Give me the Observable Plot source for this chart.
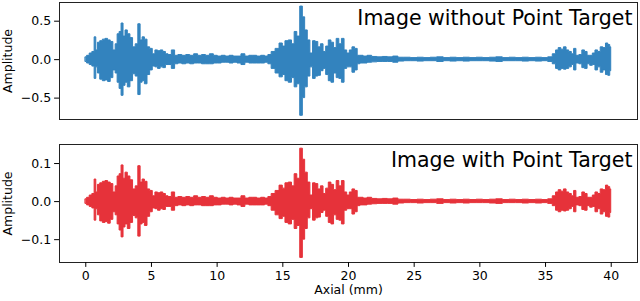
<!DOCTYPE html>
<html><head><meta charset="utf-8">
<script src="https://cdn.jsdelivr.net/npm/d3@7"></script>
<script src="https://cdn.jsdelivr.net/npm/@observablehq/plot@0.6"></script>
<style>
html,body{margin:0;padding:0;background:#fff;}
#chart{width:640px;height:301px;overflow:hidden;}
#chart svg{display:block;}
</style></head><body><div id="chart"></div>
<script>
// Axial positions (mm) at which the signal envelope was read
const axial = [
  0.0,0.2,0.4,0.6,0.75,0.85,1.0,1.2,1.4,1.6,
  1.8,2.0,2.2,2.35,2.5,2.65,2.8,2.95,3.1,3.3,
  3.5,3.7,3.9,4.1,4.25,4.4,4.6,4.8,5.0,5.2,
  5.4,5.6,5.8,6.0,6.2,6.4,6.7,6.9,7.2,7.5,
  7.8,8.1,8.4,8.7,9.0,9.3,9.6,9.9,10.2,10.5,
  10.8,11.1,11.4,11.7,12.0,12.3,12.6,12.9,13.2,13.5,
  13.8,14.0,14.3,14.6,14.9,15.1,15.3,15.6,15.8,16.0,
  16.2,16.45,16.6,16.8,17.0,17.2,17.4,17.6,17.8,18.0,
  18.2,18.4,18.6,18.8,19.0,19.2,19.4,19.6,19.8,20.0,
  20.2,20.4,20.6,20.8,21.0,21.3,21.6,22.0,22.4,22.8,
  23.2,23.6,24.0,24.5,25.0,25.5,26.0,26.5,27.0,27.5,
  28.0,28.5,29.0,29.5,30.0,30.5,31.0,31.5,32.0,32.5,
  33.0,33.5,34.0,34.5,35.0,35.4,35.7,35.9,36.1,36.3,
  36.5,36.7,36.9,37.1,37.25,37.45,37.7,37.9,38.1,38.3,
  38.5,38.7,38.9,39.1,39.3,39.5,39.7,39.85,40.0
];
// Image without Point Target: upper / lower envelope of amplitude
const withoutHi = [
  .03,.05,.08,.10,.29,.12,.22,.24,.26,.27,
  .25,.23,.12,.20,.33,.36,.47,.30,.38,.33,
  .28,.16,.20,.46,.25,.29,.26,.16,.14,.07,
  .12,.11,.12,.10,.07,.06,.12,.05,.06,.05,
  .06,.05,.07,.05,.06,.05,.07,.05,.04,.05,
  .04,.05,.04,.04,.07,.04,.05,.05,.04,.05,
  .04,.06,.10,.14,.21,.17,.24,.25,.20,.36,
  .30,.69,.55,.38,.25,.08,.24,.23,.16,.20,
  .10,.17,.25,.22,.15,.27,.20,.27,.12,.08,
  .12,.16,.14,.05,.05,.04,.05,.035,.03,.035,
  .03,.04,.025,.025,.02,.025,.02,.025,.03,.02,
  .025,.02,.025,.02,.025,.02,.025,.03,.02,.025,
  .02,.025,.02,.025,.02,.03,.07,.12,.15,.13,
  .16,.12,.10,.07,.14,.05,.06,.12,.10,.05,
  .05,.08,.12,.10,.16,.15,.21,.19,.16
];
const withoutLo = [
  -.03,-.05,-.07,-.09,-.25,-.10,-.18,-.26,-.28,-.27,
  -.29,-.24,-.14,-.18,-.30,-.38,-.47,-.34,-.30,-.36,
  -.28,-.19,-.22,-.46,-.30,-.28,-.32,-.20,-.14,-.09,
  -.10,-.12,-.10,-.11,-.07,-.07,-.12,-.06,-.05,-.06,
  -.05,-.06,-.05,-.05,-.06,-.06,-.06,-.05,-.05,-.04,
  -.04,-.05,-.04,-.05,-.07,-.04,-.05,-.05,-.05,-.05,
  -.04,-.06,-.12,-.18,-.23,-.20,-.28,-.30,-.24,-.36,
  -.32,-.73,-.50,-.36,-.22,-.10,-.25,-.22,-.21,-.15,
  -.12,-.20,-.28,-.30,-.18,-.24,-.25,-.30,-.12,-.10,
  -.10,-.17,-.14,-.06,-.05,-.05,-.04,-.035,-.03,-.03,
  -.03,-.04,-.025,-.02,-.02,-.025,-.02,-.02,-.03,-.02,
  -.025,-.02,-.025,-.02,-.02,-.02,-.025,-.03,-.02,-.02,
  -.02,-.025,-.02,-.025,-.02,-.03,-.06,-.12,-.14,-.12,
  -.13,-.12,-.10,-.07,-.14,-.05,-.06,-.11,-.12,-.06,
  -.08,-.07,-.14,-.10,-.17,-.14,-.20,-.21,-.15
];
// Image with Point Target: upper / lower envelope of amplitude
const withHi = [
  .006,.010,.016,.020,.058,.024,.044,.048,.052,.054,
  .050,.046,.024,.040,.066,.072,.095,.060,.076,.066,
  .056,.032,.040,.093,.050,.058,.052,.032,.028,.014,
  .024,.022,.024,.020,.014,.012,.024,.010,.012,.010,
  .012,.010,.014,.010,.012,.010,.014,.010,.008,.010,
  .008,.010,.008,.008,.014,.008,.010,.010,.008,.010,
  .008,.012,.020,.028,.042,.034,.048,.050,.040,.072,
  .060,.139,.110,.076,.050,.016,.048,.046,.032,.040,
  .020,.034,.050,.044,.030,.054,.040,.054,.024,.016,
  .024,.032,.028,.010,.010,.008,.010,.007,.006,.007,
  .006,.008,.005,.005,.004,.005,.004,.005,.006,.004,
  .005,.004,.005,.004,.005,.004,.005,.006,.004,.005,
  .004,.005,.004,.005,.004,.006,.014,.024,.030,.026,
  .032,.024,.020,.014,.028,.010,.012,.024,.020,.010,
  .010,.016,.024,.020,.032,.030,.042,.038,.032
];
const withLo = [
  -.006,-.010,-.014,-.018,-.050,-.020,-.036,-.052,-.056,-.054,
  -.058,-.048,-.028,-.036,-.060,-.076,-.094,-.068,-.060,-.072,
  -.056,-.038,-.044,-.092,-.060,-.056,-.064,-.040,-.028,-.018,
  -.020,-.024,-.020,-.022,-.014,-.014,-.024,-.012,-.010,-.012,
  -.010,-.012,-.010,-.010,-.012,-.012,-.012,-.010,-.010,-.008,
  -.008,-.010,-.008,-.010,-.014,-.008,-.010,-.010,-.010,-.010,
  -.008,-.012,-.024,-.036,-.046,-.040,-.056,-.060,-.048,-.072,
  -.064,-.148,-.100,-.072,-.044,-.020,-.050,-.044,-.042,-.030,
  -.024,-.040,-.056,-.060,-.036,-.048,-.050,-.060,-.024,-.020,
  -.020,-.034,-.028,-.012,-.010,-.010,-.008,-.007,-.006,-.006,
  -.006,-.008,-.005,-.004,-.004,-.005,-.004,-.004,-.006,-.004,
  -.005,-.004,-.005,-.004,-.004,-.004,-.005,-.006,-.004,-.004,
  -.004,-.005,-.004,-.005,-.004,-.006,-.012,-.024,-.028,-.024,
  -.026,-.024,-.020,-.014,-.028,-.010,-.012,-.022,-.024,-.012,
  -.016,-.014,-.028,-.020,-.034,-.028,-.040,-.042,-.030
];
const xTicks = [0, 5, 10, 15, 20, 25, 30, 35, 40];
const topYTicks = [-0.5, 0.0, 0.5];
const bottomYTicks = [-0.1, 0.0, 0.1];
const titles = ["Image without Point Target", "Image with Point Target"];
const colors = ["#3383be", "#e6323a"];

const FONT = "'DejaVu Sans', sans-serif";

function panel({hi, lo, color, yDomain, yTicks, title, showX, height, marginTop, marginBottom}) {
  const n = Math.min(axial.length, hi.length, lo.length);
  const rows = axial.slice(0, n).map((a, i) => ({axial: a, hi: hi[i], lo: lo[i]}));
  const marks = [
    Plot.areaY(rows, {x: "axial", y1: "lo", y2: "hi", fill: color, stroke: color, strokeWidth: 1, curve: "step"}),
    Plot.frame({stroke: "#222", strokeWidth: 1}),
    Plot.axisY(yTicks, {tickSize: 4.9, tickPadding: 3.5, tickFormat: d3.format(".1f"), label: null, fontSize: 12.5}),
    Plot.text(["Amplitude"], {text: d => d, frameAnchor: "left", textAnchor: "middle", lineAnchor: "middle", rotate: -90, dx: -52, fontSize: 12.5, fill: "black"}),
    Plot.text([title], {text: d => d, frameAnchor: "top-right", textAnchor: "end", lineAnchor: "top", dx: -5, dy: 8.4, fontSize: 20.5, fill: "black"})
  ];
  if (showX) {
    marks.push(
      Plot.axisX(xTicks, {tickSize: 4.9, tickPadding: 3.5, label: null, tickFormat: d => String(d), fontSize: 12.5}),
      Plot.text(["Axial (mm)"], {text: d => d, frameAnchor: "bottom", textAnchor: "middle", dy: 31, fontSize: 12.5, fill: "black"})
    );
  }
  return Plot.plot({
    width: 640, height,
    marginLeft: 59, marginRight: 3, marginTop, marginBottom,
    style: {fontFamily: FONT, fontSize: "12.5px", color: "black", background: "white"},
    x: {domain: [-2, 42], ...(showX ? {} : {axis: null})},
    y: {domain: yDomain},
    marks
  });
}

const chart = document.getElementById("chart");
chart.append(panel({
  hi: withoutHi, lo: withoutLo, color: colors[0],
  yDomain: [-0.778, 0.743], yTicks: topYTicks, title: titles[0],
  showX: false, height: 125, marginTop: 2, marginBottom: 6
}));
chart.append(panel({
  hi: withHi, lo: withLo, color: colors[1],
  yDomain: [-0.160, 0.150], yTicks: bottomYTicks, title: titles[1],
  showX: true, height: 176, marginTop: 19, marginBottom: 39
}));
</script>
</body></html>
